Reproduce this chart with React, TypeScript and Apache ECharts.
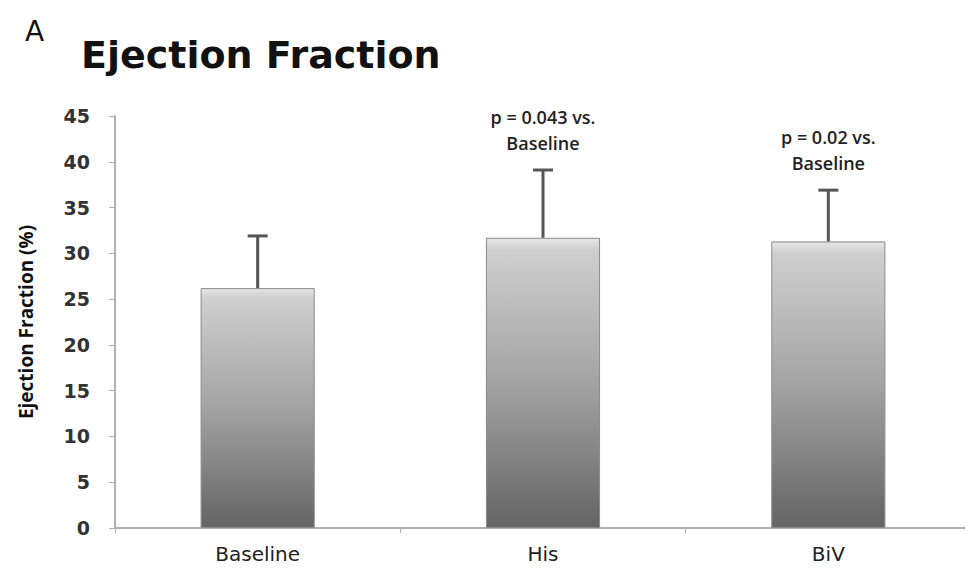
import React, { useEffect, useRef } from "react";
import * as echarts from "echarts";

const categories = ["Baseline", "His", "BiV"];
const meanValues = [26.2, 31.7, 31.3];
const errorValues = [5.7, 7.4, 5.6];
const annotations = ["", "p = 0.043 vs.\nBaseline", "p = 0.02 vs.\nBaseline"];
const yTicks = { min: 0, max: 45, interval: 5 };

export default function App() {
  const ref = useRef<HTMLDivElement>(null);
  useEffect(() => {
    if (!ref.current) return;
    const chart = echarts.init(ref.current, null, { renderer: "svg" });
    const errData = categories.map((c, i) => [i, meanValues[i], meanValues[i] + errorValues[i], annotations[i]]);
    chart.setOption({
      animation: false,
      backgroundColor: "#ffffff",
      title: [
        {
          text: "A",
          left: 12,
          top: 4,
          textStyle: { fontFamily: "DejaVu Sans", fontWeight: "normal", fontSize: 28, color: "#111" },
        },
        {
          text: "Ejection Fraction",
          left: 68,
          top: 23,
          textStyle: { fontFamily: "DejaVu Sans", fontWeight: "bold", fontSize: 38, color: "#111" },
        },
      ],
      grid: { left: 102, right: 2, top: 108, bottom: 46, containLabel: false },
      xAxis: {
        type: "category",
        data: categories,
        axisLine: { lineStyle: { color: "#b0b0b0", width: 2 } },
        axisTick: { show: true, length: 5, lineStyle: { color: "#b0b0b0" } },
        axisLabel: { fontFamily: "DejaVu Sans", fontSize: 20, color: "#222", margin: 16 },
      },
      yAxis: {
        type: "value",
        min: yTicks.min,
        max: yTicks.max,
        interval: yTicks.interval,
        name: "Ejection Fraction (%)",
        nameLocation: "middle",
        nameRotate: 90,
        nameGap: 80,
        nameTextStyle: { fontFamily: "Open Sans", fontWeight: "bold", fontSize: 19, color: "#111" },
        axisLine: { show: true, lineStyle: { color: "#b0b0b0", width: 2 } },
        axisTick: { show: true, length: 6, lineStyle: { color: "#b0b0b0" } },
        splitLine: { show: false },
        axisLabel: { fontFamily: "DejaVu Sans", fontSize: 19, fontWeight: "bold", color: "#333", margin: 25 },
      },
      series: [
        {
          type: "bar",
          data: meanValues,
          barWidth: "40%",
          itemStyle: {
            color: new echarts.graphic.LinearGradient(0, 0, 0, 1, [
              { offset: 0, color: "#e6e6e6" },
              { offset: 0.04, color: "#cfcfcf" },
              { offset: 0.5, color: "#a3a3a3" },
              { offset: 1, color: "#646464" },
            ]),
            borderColor: "#8a8a8a",
            borderWidth: 1,
          },
        },
        {
          type: "custom",
          data: errData,
          z: 5,
          renderItem: (params: any, api: any) => {
            const i = api.value(0);
            const lo = api.coord([i, api.value(1)]);
            const hi = api.coord([i, api.value(2)]);
            const label = annotations[params.dataIndex];
            const style = { stroke: "#555555", lineWidth: 3 };
            const children: any[] = [
              { type: "line", shape: { x1: lo[0], y1: lo[1], x2: hi[0], y2: hi[1] }, style },
              { type: "line", shape: { x1: hi[0] - 10, y1: hi[1], x2: hi[0] + 10, y2: hi[1] }, style },
            ];
            if (label) {
              children.push({
                type: "text",
                x: hi[0],
                y: hi[1] - 14,
                style: {
                  text: label,
                  fill: "#222",
                  font: "600 18px 'Open Sans'",
                  textAlign: "center",
                  textVerticalAlign: "bottom",
                  lineHeight: 26,
                },
              });
            }
            return { type: "group", children };
          },
        },
      ],
    });
    return () => chart.dispose();
  }, []);
  return <div ref={ref} style={{ width: 965, height: 566 }} />;
}
